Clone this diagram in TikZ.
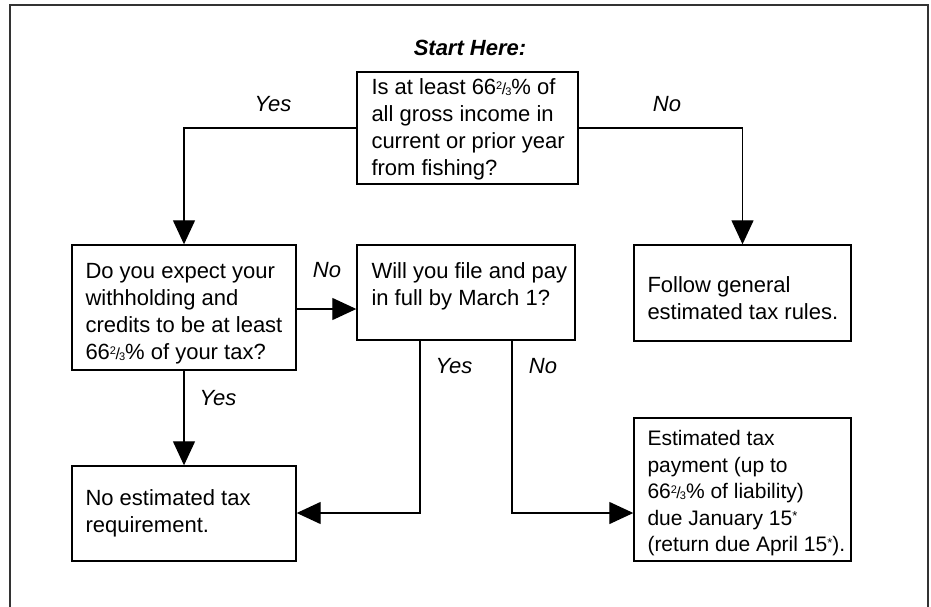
\documentclass[tikz,border=0pt]{standalone}
\usepackage{fontspec}
\setmainfont{Liberation Sans}
\usetikzlibrary{arrows.meta}
\newcommand{\tth}{\raisebox{5pt}{\fontsize{11}{11}\selectfont 2}\kern-0.5pt{\fontsize{16}{16}\selectfont/}\kern-1pt\raisebox{-1pt}{\fontsize{11}{11}\selectfont 3}}
\newcommand{\smallast}{\raisebox{4.5pt}{\fontsize{13}{13}\selectfont *}}
\begin{document}
\begin{tikzpicture}[x=1pt,y=-1pt,
  box/.style={draw, line width=1.4pt, inner sep=0pt, anchor=center},
  txt/.style={align=left, inner sep=0pt, anchor=west,
    font=\fontsize{22}{27}\selectfont},
  lbl/.style={font=\fontsize{22}{25}\selectfont\itshape},
  conn/.style={line width=1.3pt, -{Triangle[length=24pt,width=22pt]}}]
\useasboundingbox (0,0) rectangle (931,607);
\draw[line width=1.8pt, black!80] (10,610) -- (10,5) -- (928,5) -- (928,610);
\node[font=\fontsize{22}{25}\selectfont\bfseries\itshape] (start) at (470,48) {Start Here:};
% boxes
\node[box, minimum width=221pt, minimum height=112pt] (q1) at (467.5,128) {};
\node[txt] (q1t) at ([xshift=15pt,yshift=-1pt]q1.west)
  {Is at least 66\tth\% of\\all gross income in\\current or prior year\\from fishing?};
\node[box, minimum width=224pt, minimum height=125pt] (q2) at (184,307.5) {};
\node[txt] (q2t) at ([xshift=14pt,yshift=-6pt]q2.west)
  {Do you expect your\\withholding and\\credits to be at least\\66\tth\% of your tax?};
\node[box, minimum width=218pt, minimum height=95pt] (q3) at (466,292.5) {};
\node[txt] (q3t) at ([xshift=15pt,yshift=6pt]q3.west)
  {Will you file and pay\\in full by March 1?};
\node[box, minimum width=217pt, minimum height=96pt] (r1) at (742.5,293) {};
\node[txt] (r1t) at ([xshift=14pt,yshift=-5pt]r1.west)
  {Follow general\\estimated tax rules.};
\node[box, minimum width=224pt, minimum height=95pt] (r2) at (184,513.5) {};
\node[txt] (r2t) at ([xshift=14pt]r2.west)
  {No estimated tax\\requirement.};
\node[box, minimum width=217pt, minimum height=143pt] (r3) at (742.5,489.5) {};
\node[txt, font=\fontsize{21}{26.5}\selectfont] (r3t) at ([xshift=14pt,yshift=-4pt]r3.west)
  {Estimated tax\\payment (up to\\66\tth\% of liability)\\due January 15\smallast\\(return due April 15\smallast).};
% connectors
\coordinate (c1) at (184,128);
\coordinate (c2) at (742.5,128);
\coordinate (c3) at (420,513);
\coordinate (c4) at (512,513);
\draw[conn] (q1.west) -- (c1) -- (q2.north);
\draw[conn] (q1.east) -- (c2) -- (r1.north);
\draw[conn] (q2.east |- 0,309) -- (q3.west |- 0,309);
\draw[conn] (q2.south) -- (r2.north);
\draw[conn] (q3.south -| c3) -- (c3) -- (r2.east |- c3);
\draw[conn] (q3.south -| c4) -- (c4) -- (r3.west |- c4);
% labels
\node[lbl] (l1) at (273,104) {Yes};
\node[lbl] (l2) at (667,104) {No};
\node[lbl] (l3) at (327,270) {No};
\node[lbl] (l4) at (454,366) {Yes};
\node[lbl] (l5) at (543,366) {No};
\node[lbl] (l6) at (218,398) {Yes};
\end{tikzpicture}
\end{document}
